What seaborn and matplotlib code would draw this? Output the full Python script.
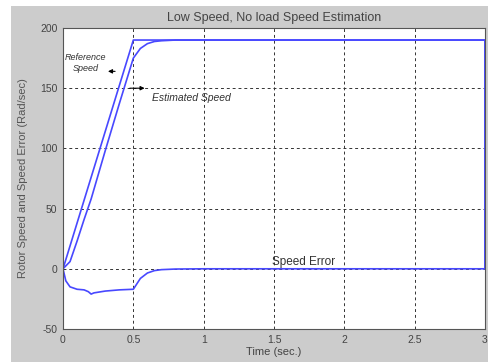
import matplotlib
matplotlib.use("Agg")
import matplotlib.pyplot as plt
import matplotlib.patches as mpatches
import seaborn as sns
import pandas as pd

# ---- data ----
ref_t = [0.0, 0.5, 3.0, 3.0]
ref_speed = [0.0, 190.0, 190.0, 0.0]

est_t = [0.0, 0.05, 0.1, 0.15, 0.2, 0.25, 0.3, 0.4, 0.5, 0.55, 0.6, 0.65, 0.7, 0.8, 3.0, 3.0]
est_speed = [0.0, 6.0, 23.0, 41.0, 58.0, 78.0, 98.0, 137.0, 175.0, 183.0, 187.0, 188.8, 189.4, 190.0, 190.0, 0.0]

err_t = [0.0, 0.02, 0.05, 0.1, 0.15, 0.18, 0.2, 0.22, 0.3, 0.4, 0.5, 0.55, 0.6, 0.65, 0.7, 0.8, 1.0, 3.0]
err_val = [0.0, -10.0, -15.0, -17.0, -17.5, -19.0, -21.0, -20.0, -18.5, -17.5, -17.0, -8.0, -3.5, -1.5, -0.7, -0.2, 0.0, 0.0]

x_ticks = [0, 0.5, 1, 1.5, 2, 2.5, 3]
x_labels = ["0", "0.5", "1", "1.5", "2", "2.5", "3"]
y_ticks = [-50, 0, 50, 100, 150, 200]
y_labels = ["-50", "0", "50", "100", "150", "200"]

title = "Low Speed, No load Speed Estimation"
xlabel = "Time (sec.)"
ylabel = "Rotor Speed and Speed Error (Rad/sec)"

sns.set_theme(style="white")
plt.rcParams['font.family'] = ['Liberation Sans', 'DejaVu Sans']

fig = plt.figure(figsize=(4.89, 3.62), dpi=100, facecolor="white")
fig.patches.append(mpatches.Rectangle((11 / 489, 0), 1 - 11 / 489, 1 - 6 / 362,
                                      transform=fig.transFigure, facecolor="#cccccc",
                                      edgecolor="none", zorder=-10))
ax = fig.add_axes([63 / 489, 1 - 329 / 362, (485 - 63) / 489, (329 - 28) / 362])
ax.set_facecolor("white")

line_color = "#4848ff"
for t, v in [(ref_t, ref_speed), (est_t, est_speed), (err_t, err_val)]:
    df = pd.DataFrame({"t": t, "v": v})
    sns.lineplot(data=df, x="t", y="v", ax=ax, sort=False, estimator=None,
                 color=line_color, linewidth=1.2)

ax.set_xlim(0, 3)
ax.set_ylim(-50, 200)
ax.set_xticks(x_ticks)
ax.set_xticklabels(x_labels)
ax.set_yticks(y_ticks)
ax.set_yticklabels(y_labels)
ax.tick_params(direction="in", length=3, width=0.6, colors="#333333",
               labelsize=7.5, labelcolor="#444444", pad=4)
ax.grid(True, color="#333333", linestyle=(0, (3, 3)), linewidth=0.7)
for s in ax.spines.values():
    s.set_color("#555555")
    s.set_linewidth(0.8)
    s.set_visible(True)

ax.set_title(title, fontsize=9, color="#444444", pad=5)
ax.set_xlabel(xlabel, fontsize=8, color="#444444", labelpad=2)
ax.set_ylabel(ylabel, fontsize=8, color="#555555", labelpad=9)

ax.text(0.163, 171, "Reference\nSpeed", fontsize=6.5, style="italic", color="#333333",
        ha="center", va="center", linespacing=1.2)
ax.annotate("", xy=(0.30, 164), xytext=(0.39, 164),
            arrowprops=dict(arrowstyle="-|>", color="black", lw=0.8, mutation_scale=6))
ax.annotate("", xy=(0.60, 150), xytext=(0.455, 150),
            arrowprops=dict(arrowstyle="-|>", color="black", lw=0.8, mutation_scale=6))
ax.text(0.633, 142, "Estimated Speed", fontsize=7.5, style="italic", color="#333333",
        ha="left", va="center")
ax.text(1.71, 6, "Speed Error", fontsize=8.5, color="#333333", ha="center", va="center")

fig.savefig("out.png", dpi=100, facecolor=fig.get_facecolor())
